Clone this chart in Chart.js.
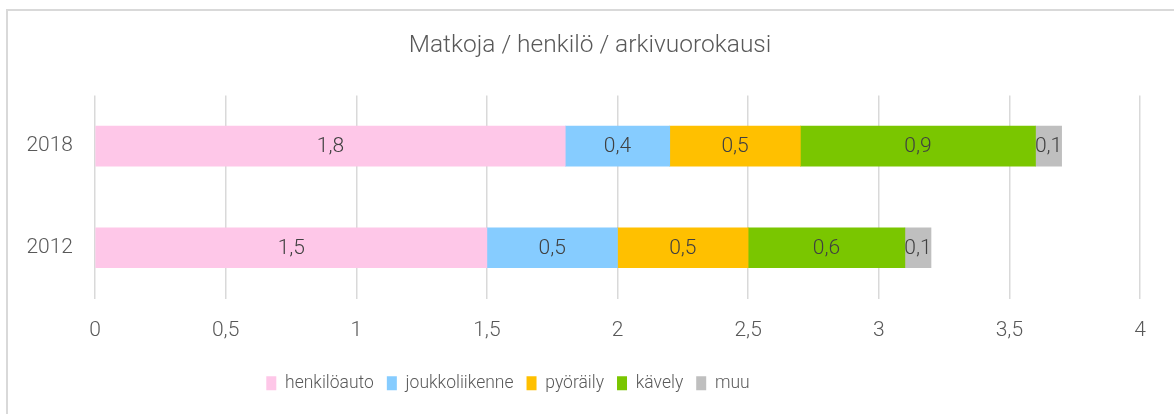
<!DOCTYPE html>
<html>
<head>
<meta charset="utf-8">
<script src="https://cdn.jsdelivr.net/npm/chart.js@4"></script>
<style>
    html, body { margin: 0; padding: 0; background: #fff; }
    #kehys { position: absolute; left: 6px; top: 9px; width: 1200px; height: 420px;
             border-left: 2px solid #d9d9d9; border-top: 2px solid #d9d9d9; }
    #wrap { position: absolute; left: 0; top: 0; width: 1174px; height: 414px; }
</style>
</head>
<body>
<div id="kehys"></div>
<div id="wrap"><canvas id="matkatChart" width="1174" height="414"></canvas></div>
<script>
const vuodet = ['2018', '2012'];
const henkiloauto = [1.8, 1.5];
const joukkoliikenne = [0.4, 0.5];
const pyoraily = [0.5, 0.5];
const kavely = [0.9, 0.6];
const muu = [0.1, 0.1];
const xTicks = [0, 0.5, 1, 1.5, 2, 2.5, 3, 3.5, 4];

const sarjat = [
    { label: 'henkilöauto', data: henkiloauto, color: '#fec7e8' },
    { label: 'joukkoliikenne', data: joukkoliikenne, color: '#86ccff' },
    { label: 'pyöräily', data: pyoraily, color: '#ffc000' },
    { label: 'kävely', data: kavely, color: '#7ac600' },
    { label: 'muu', data: muu, color: '#bfbfbf' }
];

const pilkku = v => String(v).replace('.', ',');

// arvot palkkien keskelle
const arvoLabelit = {
    id: 'arvoLabelit',
    afterDatasetsDraw(chart) {
        const ctx = chart.ctx;
        ctx.save();
        ctx.font = '300 21px Roboto';
        ctx.fillStyle = '#404040';
        ctx.textAlign = 'center';
        ctx.textBaseline = 'middle';
        chart.data.datasets.forEach((ds, i) => {
            chart.getDatasetMeta(i).data.forEach((el, j) => {
                const p = el.getProps(['x', 'y', 'base'], true);
                ctx.fillText(ds.data[j].toFixed(1).replace('.', ','), (p.x + p.base) / 2, p.y + 1);
            });
        });
        ctx.restore();
    }
};

// otsikko ja selite samoihin kohtiin kuin alkuperäisessä
const siirrot = {
    id: 'siirrot',
    afterLayout(chart) {
        const t = chart.titleBlock;
        t.left += 20; t.right += 20;
        const l = chart.legend;
        l.right = l.left + 1016;
        l.width = 1016;
    }
};

const ctx = document.getElementById('matkatChart').getContext('2d');
new Chart(ctx, {
    type: 'bar',
    data: {
        labels: vuodet,
        datasets: sarjat.map(s => ({
            label: s.label,
            data: s.data,
            backgroundColor: s.color,
            borderWidth: 0,
            barThickness: 40
        }))
    },
    options: {
        indexAxis: 'y',
        responsive: false,
        animation: false,
        layout: { padding: { left: 0, right: 34, top: 0, bottom: 12 } },
        scales: {
            x: {
                stacked: true,
                min: 0,
                max: 4,
                afterBuildTicks: axis => { axis.ticks = xTicks.map(v => ({ value: v })); },
                afterFit: axis => { axis.height = 63; },
                grid: { color: '#d9d9d9', lineWidth: 1.5, drawTicks: false },
                border: { display: false },
                ticks: {
                    padding: 20,
                    color: '#595959',
                    font: { family: 'Roboto', size: 21, weight: '300' },
                    callback: v => pilkku(v)
                }
            },
            y: {
                stacked: true,
                afterFit: axis => { axis.width = 95; },
                grid: { display: false },
                border: { display: false },
                ticks: {
                    padding: 14,
                    color: '#595959',
                    font: { family: 'Roboto', size: 21, weight: '300' }
                }
            }
        },
        plugins: {
            title: {
                display: true,
                text: 'Matkoja / henkilö / arkivuorokausi',
                color: '#595959',
                font: { family: 'Roboto', size: 24.5, weight: '300' },
                padding: { top: 31, bottom: 35 }
            },
            legend: {
                display: true,
                position: 'bottom',
                labels: {
                    color: '#595959',
                    font: { family: 'Roboto', size: 17.5, weight: '300' },
                    boxWidth: 10,
                    boxHeight: 14,
                    padding: 13
                }
            },
            tooltip: { enabled: false }
        }
    },
    plugins: [arvoLabelit, siirrot]
});
</script>
</body>
</html>
